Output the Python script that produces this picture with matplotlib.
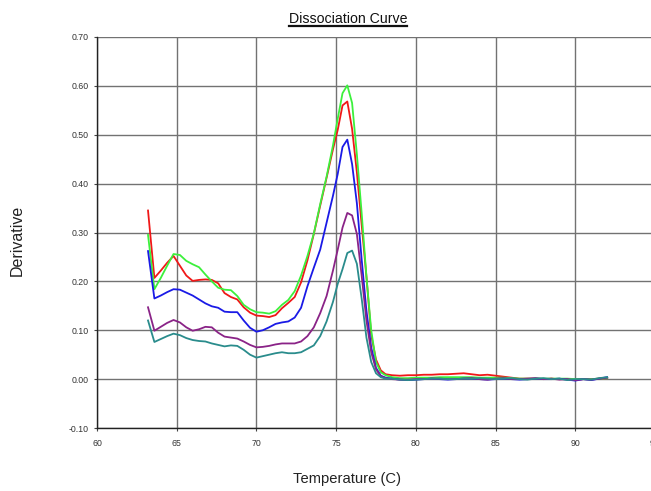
import numpy as np
import matplotlib
matplotlib.use("Agg")
import matplotlib.pyplot as plt
from matplotlib.lines import Line2D

temps = [63.2, 63.6, 64.0, 64.4, 64.8, 65.2, 65.6, 66.0, 66.4, 66.8,
         67.2, 67.6, 68.0, 68.4, 68.8, 69.2, 69.6, 70.0, 70.4, 70.8,
         71.2, 71.6, 72.0, 72.4, 72.8, 73.2, 73.6, 74.0, 74.4, 74.8,
         75.1, 75.4, 75.7, 76.0, 76.3, 76.6, 76.9, 77.2, 77.5, 77.8,
         78.1, 78.5, 79.0, 79.5, 80.0, 80.5, 81.0, 81.5, 82.0, 82.5,
         83.0, 83.5, 84.0, 84.5, 85.0, 85.5, 86.0, 86.5, 87.0, 87.5,
         88.0, 88.5, 89.0, 89.5, 90.0, 90.5, 91.0, 91.5, 92.0]

green = [0.295, 0.184, 0.207, 0.232, 0.256, 0.254, 0.242, 0.235, 0.229, 0.214,
         0.200, 0.187, 0.183, 0.182, 0.170, 0.152, 0.143, 0.137, 0.136, 0.134,
         0.139, 0.152, 0.162, 0.180, 0.212, 0.252, 0.298, 0.358, 0.414, 0.478,
         0.533, 0.585, 0.601, 0.565, 0.460, 0.340, 0.210, 0.100, 0.035, 0.014,
         0.008, 0.004, 0.002, 0.002, 0.003, 0.003, 0.003, 0.004, 0.004, 0.004,
         0.004, 0.004, 0.003, 0.003, 0.003, 0.003, 0.002, 0.001, 0.001, 0.001,
         0.001, 0.001, 0.001, 0.001, 0.000, 0.000, 0.000, 0.001, 0.002]

red = [0.345, 0.207, 0.222, 0.238, 0.252, 0.232, 0.212, 0.201, 0.203, 0.204,
       0.203, 0.196, 0.176, 0.168, 0.163, 0.147, 0.136, 0.130, 0.129, 0.127,
       0.131, 0.145, 0.156, 0.168, 0.198, 0.243, 0.297, 0.355, 0.412, 0.470,
       0.510, 0.560, 0.568, 0.512, 0.423, 0.316, 0.210, 0.090, 0.040, 0.018,
       0.010, 0.008, 0.007, 0.008, 0.008, 0.009, 0.009, 0.010, 0.010, 0.011,
       0.012, 0.010, 0.008, 0.009, 0.007, 0.005, 0.003, 0.001, 0.001, 0.001,
       0.000, 0.001, 0.000, 0.000, -0.001, 0.000, 0.000, 0.001, 0.002]

blue = [0.262, 0.165, 0.171, 0.178, 0.184, 0.183, 0.177, 0.171, 0.163, 0.155,
        0.149, 0.146, 0.138, 0.137, 0.137, 0.120, 0.105, 0.097, 0.100, 0.106,
        0.113, 0.116, 0.118, 0.126, 0.146, 0.190, 0.228, 0.265, 0.320, 0.375,
        0.420, 0.475, 0.490, 0.440, 0.360, 0.245, 0.140, 0.065, 0.023, 0.007,
        0.003, 0.001, -0.001, -0.002, -0.001, 0.000, 0.001, 0.000, -0.001, 0.000,
        0.001, 0.001, 0.000, -0.001, 0.000, 0.001, 0.000, -0.001, 0.000, 0.001,
        0.000, 0.000, 0.001, -0.001, -0.003, 0.000, -0.002, 0.001, 0.004]

purple = [0.147, 0.099, 0.107, 0.115, 0.121, 0.116, 0.106, 0.099, 0.102, 0.107,
          0.106, 0.095, 0.087, 0.085, 0.083, 0.077, 0.070, 0.065, 0.066, 0.068,
          0.071, 0.073, 0.073, 0.073, 0.077, 0.088, 0.106, 0.135, 0.170, 0.222,
          0.265, 0.310, 0.340, 0.335, 0.297, 0.212, 0.120, 0.055, 0.020, 0.006,
          0.002, 0.000, -0.001, -0.001, 0.000, 0.000, 0.001, 0.001, 0.000, 0.000,
          0.001, 0.002, 0.000, -0.001, 0.001, 0.002, 0.000, 0.000, 0.001, 0.002,
          0.000, 0.001, -0.001, 0.000, -0.002, 0.000, -0.001, 0.001, 0.003]

teal = [0.120, 0.076, 0.082, 0.088, 0.093, 0.090, 0.084, 0.080, 0.078, 0.077,
        0.073, 0.070, 0.067, 0.069, 0.068, 0.060, 0.050, 0.044, 0.047, 0.050,
        0.053, 0.055, 0.053, 0.053, 0.055, 0.062, 0.069, 0.088, 0.118, 0.158,
        0.195, 0.225, 0.258, 0.263, 0.236, 0.165, 0.085, 0.035, 0.012, 0.004,
        0.001, 0.001, -0.001, -0.002, -0.001, 0.000, 0.001, 0.001, 0.000, 0.000,
        0.001, 0.001, 0.002, 0.001, 0.000, 0.001, 0.002, 0.000, -0.001, 0.001,
        0.002, 0.000, 0.001, -0.002, 0.000, 0.000, -0.001, 0.002, 0.004]

series = [("red", red, "#f01818"), ("green", green, "#3cf03c"),
          ("blue", blue, "#1a1ae6"), ("purple", purple, "#8a2387"),
          ("teal", teal, "#2a8c8c")]

xticks = [60, 65, 70, 75, 80, 85, 90, 95]
yticks = [-0.10, 0.00, 0.10, 0.20, 0.30, 0.40, 0.50, 0.60, 0.70]

plt.rcParams['font.family'] = ['Liberation Sans', 'DejaVu Sans']

W, H = 651, 491
fig = plt.figure(figsize=(W / 100, H / 100), dpi=100)
ax = fig.add_axes([97 / W, (H - 428) / H, (655 - 97) / W, (428 - 37) / H])

for name, vals, col in series:
    ax.plot(temps, vals, color=col, lw=1.3, solid_joinstyle='round', zorder=3)

ax.set_xlim(60, 95)
ax.set_ylim(-0.10, 0.70)
ax.set_xticks(xticks)
ax.set_xticklabels([str(t) for t in xticks])
ax.set_yticks(yticks)
ax.set_yticklabels([f"{v:.2f}" for v in yticks])
ax.grid(True, color='#727272', lw=1.0, zorder=1)
for s in ['top', 'right']:
    ax.spines[s].set_visible(False)
for s in ['left', 'bottom']:
    ax.spines[s].set_color('#222222')
    ax.spines[s].set_linewidth(1.0)
ax.tick_params(axis='both', length=2, width=0.8, color='#444444',
               labelsize=6.3, labelcolor='#333333')
ax.tick_params(axis='x', pad=6)
ax.tick_params(axis='y', pad=4)

t = fig.text(348 / W, 1 - 23 / H, "Dissociation Curve", ha='center',
             va='baseline', fontsize=10.2, color='#111111')
fig.canvas.draw()
bb = t.get_window_extent()
fig.add_artist(Line2D([bb.x0 / W, bb.x1 / W], [(H - 26) / H, (H - 26) / H],
                      transform=fig.transFigure, color='#111111', lw=1.6))

fig.text(347 / W, 1 - 479 / H, "Temperature (C)", ha='center', va='center',
         fontsize=10.6, color='#222222')
fig.text(17.5 / W, 1 - 240 / H, "Derivative", ha='center', va='center',
         rotation=90, fontsize=11.5, color='#222222')

fig.savefig("out.png", dpi=100)
